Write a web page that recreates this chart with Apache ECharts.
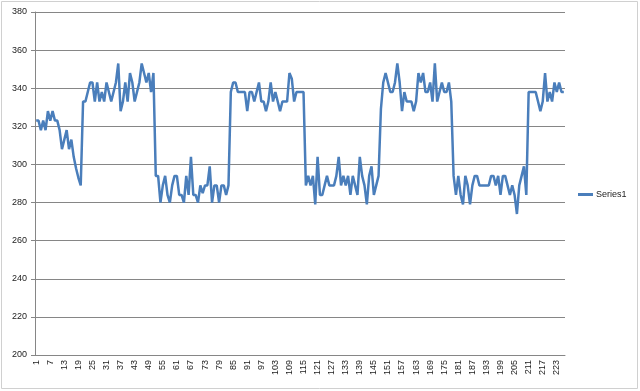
<!DOCTYPE html>
<html><head><meta charset="utf-8">
<script src="https://cdn.jsdelivr.net/npm/echarts@6/dist/echarts.min.js"></script>
<style>html,body{margin:0;padding:0;background:#fff}#c{width:640px;height:391px}</style>
</head><body><div id="c"></div>
<script>
const seriesName = 'Series1';
const values = [
323,323,318,323,318,328,323,328,323,323,318,308,313,318,308,313,304,298,293,289,
333,333,338,343,343,333,343,333,338,333,343,338,333,338,343,353,328,333,343,333,
348,343,333,338,343,353,348,343,348,338,348,294,294,280,289,294,284,280,289,294,
294,284,284,280,294,284,304,284,284,280,289,285,289,289,299,280,289,289,280,289,
289,284,289,338,343,343,338,338,338,338,328,338,338,333,338,343,333,333,328,333,
343,333,338,333,328,333,333,333,348,345,333,338,338,338,338,289,294,289,294,279,
304,284,284,289,294,289,289,289,294,304,289,294,289,294,284,294,289,284,304,294,
289,279,294,299,284,289,294,329,343,348,343,338,338,343,353,343,328,338,333,333,
333,328,333,348,343,348,338,338,343,333,353,333,338,343,338,338,343,333,294,284,
294,284,279,294,289,279,289,294,294,289,289,289,289,289,294,294,289,294,284,294,
294,289,284,289,284,274,289,294,299,284,338,338,338,338,333,328,333,348,333,338,
333,343,338,343,338,338
];
const categories = values.map((v, i) => String(i + 1));
const yMin = 200, yMax = 380, yStep = 20;

const chart = echarts.init(document.getElementById('c'), null, {renderer: 'canvas'});
chart.setOption({
  animation: false,
  backgroundColor: '#fff',
  graphic: [{type: 'rect', shape: {x: 1.5, y: 1.5, width: 636, height: 387}, style: {fill: 'none', stroke: '#d0d0d0', lineWidth: 1}, silent: true}],
  grid: {left: 35, right: 75, top: 12, bottom: 36, containLabel: false},
  legend: {
    data: [seriesName], orient: 'vertical', left: 578, top: 190, padding: 0,
    icon: 'rect', itemWidth: 15, itemHeight: 3, itemGap: 5,
    textStyle: {fontFamily: 'Liberation Sans', fontSize: 9, color: '#222', padding: [0, 0, 0, -2]}
  },
  xAxis: {
    type: 'category', data: categories, boundaryGap: true,
    axisLine: {lineStyle: {color: '#868686', width: 1}},
    axisTick: {interval: 0, length: 3, lineStyle: {color: '#868686'}},
    axisLabel: {interval: 5, rotate: 90, fontFamily: 'Liberation Sans', fontSize: 9, color: '#222', margin: 5}
  },
  yAxis: {
    type: 'value', min: yMin, max: yMax, interval: yStep,
    axisLine: {show: true, lineStyle: {color: '#868686', width: 1}},
    axisTick: {show: true, length: 4, lineStyle: {color: '#868686'}},
    splitLine: {lineStyle: {color: '#868686', width: 1}},
    axisLabel: {fontFamily: 'Liberation Sans', fontSize: 9, color: '#222', margin: 8}
  },
  series: [{
    name: seriesName, type: 'line', data: values, symbol: 'none',
    lineStyle: {color: '#4a7ebb', width: 2.5}, itemStyle: {color: '#4a7ebb'}
  }]
});
</script></body></html>
